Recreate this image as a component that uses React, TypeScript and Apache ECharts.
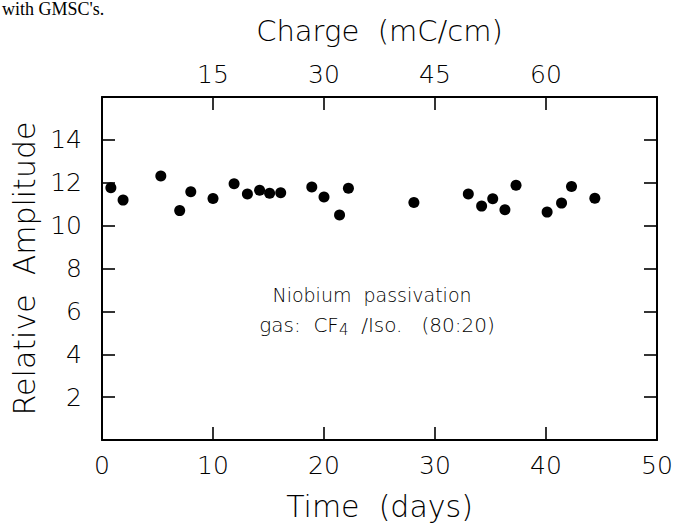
import React, { useEffect, useRef } from "react";
import * as echarts from "echarts";

// Data
const timeDays = [0.8, 1.9, 5.3, 7.0, 8.0, 10.0, 11.9, 13.1, 14.2, 15.1, 16.1, 18.9, 20.0, 21.4, 22.2, 28.1, 33.0, 34.2, 35.2, 36.3, 37.3, 40.1, 41.4, 42.3, 44.4];
const amplitude = [11.77, 11.19, 12.31, 10.7, 11.58, 11.27, 11.95, 11.48, 11.65, 11.51, 11.53, 11.8, 11.34, 10.5, 11.74, 11.08, 11.47, 10.91, 11.25, 10.74, 11.88, 10.63, 11.05, 11.83, 11.28];

const timeTicks = [0, 10, 20, 30, 40, 50];
const chargeTicks = [15, 30, 45, 60];
const ampTicks = [2, 4, 6, 8, 10, 12, 14];

const FONT = "DejaVu Sans";
const W = 200;

export default function App() {
  const ref = useRef<HTMLDivElement>(null);
  useEffect(() => {
    if (!ref.current) return;
    const chart = echarts.init(ref.current, null, { renderer: "svg" });
    const axisLine = { show: true, onZero: false, lineStyle: { color: "#000", width: 2 } };
    const tick = { show: true, inside: true, length: 13, lineStyle: { color: "#000", width: 1.6 } };
    const lbl = { color: "#000", fontFamily: FONT, fontWeight: W, fontSize: 25 };
    chart.setOption({
      animation: false,
      backgroundColor: "#fff",
      grid: { left: 102, right: 35, top: 97, bottom: 79 },
      xAxis: [
        {
          type: "value",
          position: "bottom",
          min: 0,
          max: 50,
          interval: 10,
          name: "Time  (days)",
          nameLocation: "middle",
          nameGap: 51,
          nameTextStyle: { color: "#000", fontFamily: FONT, fontWeight: W, fontSize: 30 },
          axisLine,
          axisTick: tick,
          splitLine: { show: false },
          axisLabel: {
            ...lbl,
            margin: 13,
            showMinLabel: true,
            showMaxLabel: true,
            formatter: (v: number) => (timeTicks.includes(v) ? String(v) : ""),
          },
        },
        {
          type: "value",
          position: "top",
          min: 0,
          max: 75,
          interval: 15,
          name: "Charge  (mC/cm)",
          nameLocation: "middle",
          nameGap: 52,
          nameTextStyle: { color: "#000", fontFamily: FONT, fontWeight: W, fontSize: 29 },
          axisLine,
          axisTick: tick,
          splitLine: { show: false },
          axisLabel: {
            ...lbl,
            margin: 10,
            formatter: (v: number) => (chargeTicks.includes(v) ? String(v) : ""),
          },
        },
      ],
      yAxis: [
        {
          type: "value",
          position: "left",
          min: 0,
          max: 16,
          interval: 2,
          name: "Relative  Amplitude",
          nameLocation: "middle",
          nameGap: 63,
          nameTextStyle: { color: "#000", fontFamily: FONT, fontWeight: W, fontSize: 30 },
          axisLine,
          axisTick: tick,
          splitLine: { show: false },
          axisLabel: {
            ...lbl,
            margin: 20,
            formatter: (v: number) => (ampTicks.includes(v) ? String(v) : ""),
          },
        },
        {
          type: "value",
          position: "right",
          min: 0,
          max: 16,
          interval: 2,
          axisLine,
          axisTick: tick,
          splitLine: { show: false },
          axisLabel: { show: false },
        },
      ],
      series: [
        {
          type: "scatter",
          xAxisIndex: 0,
          yAxisIndex: 0,
          symbol: "circle",
          symbolSize: 11,
          itemStyle: { color: "#000", opacity: 1 },
          data: timeDays.map((d, i) => [d, amplitude[i]]),
        },
      ],
      graphic: [
        {
          type: "text",
          left: 2,
          top: 0,
          style: { text: "with GMSC's.", fill: "#000", font: "18px 'Liberation Serif'" },
        },
        {
          type: "text",
          x: 372,
          y: 295,
          style: {
            text: "Niobium  passivation",
            fill: "#000",
            fontFamily: FONT,
            fontWeight: W,
            fontSize: 19,
            align: "center",
            verticalAlign: "middle",
          },
        },
        {
          type: "text",
          x: 377,
          y: 325,
          style: {
            text: "gas:  CF{sub|4}  /Iso.   (80:20)",
            fill: "#000",
            fontFamily: FONT,
            fontWeight: W,
            fontSize: 20,
            align: "center",
            verticalAlign: "middle",
            rich: {
              sub: { fontFamily: FONT, fontWeight: W, fontSize: 15, verticalAlign: "bottom", padding: [9, 0, 0, 0] },
            },
          },
        },
      ],
    });
    return () => chart.dispose();
  }, []);
  return (
    <div
      ref={ref}
      style={{ position: "absolute", left: 0, top: 0, width: 692, height: 526 }}
    />
  );
}
